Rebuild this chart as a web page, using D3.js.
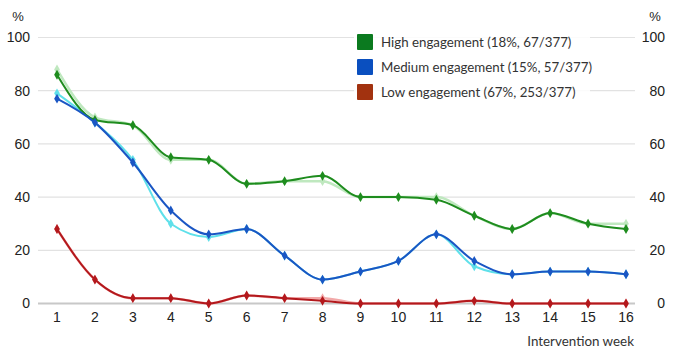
<!DOCTYPE html>
<html>
<head>
<meta charset="utf-8">
<script src="https://cdn.jsdelivr.net/npm/d3@7"></script>
<style>
  body { margin: 0; background: #fff; }
  svg { display: block; font-family: "Liberation Sans", Arial, sans-serif; }
</style>
</head>
<body>
<script>
// data
const weeks = d3.range(1, 17);
const yTicks = [0, 20, 40, 60, 80, 100];

const high = [86, 69, 67, 55, 54, 45, 46, 48, 40, 40, 39, 33, 28, 34, 30, 28];
const medium = [77, 68, 53, 35, 26, 28, 18, 9, 12, 16, 26, 16, 11, 12, 12, 11];
const low = [28, 9, 2, 2, 0, 3, 2, 1, 0, 0, 0, 1, 0, 0, 0, 0];

// faint companion lines behind each group
const highAlt = [88, 70, 67, 54, 54, 45, 46, 46, 40, 40, 40, 33, 28, 34, 30, 30];
const mediumAlt = [79, 68, 54, 30, 25, 28, 18, 9, 12, 16, 26, 14, 11, 12, 12, 11];
const lowAlt = [28, 9, 2, 2, 0, 3, 2, 2, 0, 0, 0, 1, 0, 0, 0, 0];

const legendLabels = [
  "High engagement (18%, 67/377)",
  "Medium engagement (15%, 57/377)",
  "Low engagement (67%, 253/377)"
];
const legendColors = ["#0b7a1f", "#0a4fbf", "#a2320f"];

const width = 682, height = 352;

const svg = d3.select("body").append("svg")
    .attr("width", width)
    .attr("height", height);

const x = d3.scalePoint().domain(weeks).range([57, 626]);
const y = d3.scaleLinear().domain([0, 100]).range([303.5, 37.5]);

// grid
svg.append("g")
  .selectAll("line")
  .data(yTicks.filter(d => d > 0))
  .join("line")
    .attr("x1", 38).attr("x2", 635)
    .attr("y1", d => y(d)).attr("y2", d => y(d))
    .attr("stroke", "#e2e2e2")
    .attr("stroke-width", 1.2);

svg.append("line")
    .attr("x1", 38).attr("x2", 635)
    .attr("y1", y(0)).attr("y2", y(0))
    .attr("stroke", "#c8c8c8")
    .attr("stroke-width", 2);

// y labels both sides
svg.append("g")
    .attr("font-size", 14).attr("fill", "#222")
  .selectAll("text")
  .data(yTicks)
  .join("text")
    .attr("x", 30).attr("y", d => y(d))
    .attr("dy", "0.35em")
    .attr("text-anchor", "end")
    .text(d => d);

svg.append("g")
    .attr("font-size", 14).attr("fill", "#222")
  .selectAll("text")
  .data(yTicks)
  .join("text")
    .attr("x", 665).attr("y", d => y(d))
    .attr("dy", "0.35em")
    .attr("text-anchor", "end")
    .text(d => d);

svg.append("text").attr("x", 18).attr("y", 21)
    .attr("text-anchor", "middle").attr("font-size", 13).attr("fill", "#222").text("%");
svg.append("text").attr("x", 655).attr("y", 21)
    .attr("text-anchor", "middle").attr("font-size", 13).attr("fill", "#222").text("%");

// x labels
svg.append("g")
    .attr("font-size", 14).attr("fill", "#222")
  .selectAll("text")
  .data(weeks)
  .join("text")
    .attr("x", d => x(d)).attr("y", 322)
    .attr("text-anchor", "middle")
    .text(d => d);

svg.append("text")
    .attr("x", 634).attr("y", 346)
    .attr("text-anchor", "end")
    .attr("font-family", "Lato, sans-serif")
    .attr("font-size", 13.4)
    .attr("fill", "#333")
    .text("Intervention week");

// series
const line = d3.line()
    .x((d, i) => x(weeks[i]))
    .y(d => y(d))
    .curve(d3.curveMonotoneX);

const series = [
  { values: highAlt, color: "#bfe8bf", w: 2.5 },
  { values: mediumAlt, color: "#5fe0ea", w: 2 },
  { values: lowAlt, color: "#f2a9a9", w: 2.5 },
  { values: high, color: "#1e8c1e", w: 2 },
  { values: medium, color: "#1a56c4", w: 2 },
  { values: low, color: "#b3181c", w: 2 }
];

const diamond = d3.symbol().type(d3.symbolDiamond).size(28);

series.forEach(s => {
  const g = svg.append("g");
  g.append("path")
      .attr("d", line(s.values))
      .attr("fill", "none")
      .attr("stroke", s.color)
      .attr("stroke-width", s.w);
  g.selectAll("path.m")
    .data(s.values)
    .join("path")
      .attr("class", "m")
      .attr("transform", (d, i) => `translate(${x(weeks[i])},${y(d)})`)
      .attr("d", diamond)
      .attr("fill", s.color);
});

// legend
const legend = svg.append("g").attr("transform", "translate(354,30)");
legend.append("rect")
    .attr("x", 0).attr("y", 0).attr("width", 236).attr("height", 76)
    .attr("fill", "#fff").attr("fill-opacity", 0.85);
const item = legend.selectAll("g.item")
  .data(legendLabels)
  .join("g")
    .attr("class", "item")
    .attr("transform", (d, i) => `translate(0,${i * 25})`);
item.append("rect")
    .attr("x", 3).attr("y", 4).attr("width", 16).attr("height", 16)
    .attr("rx", 1)
    .attr("fill", (d, i) => legendColors[i]);
item.append("text")
    .attr("x", 27).attr("y", 12)
    .attr("dy", "0.35em")
    .attr("font-family", "Lato, sans-serif")
    .attr("font-size", 13.3)
    .attr("fill", "#333")
    .text(d => d);
</script>
</body>
</html>
